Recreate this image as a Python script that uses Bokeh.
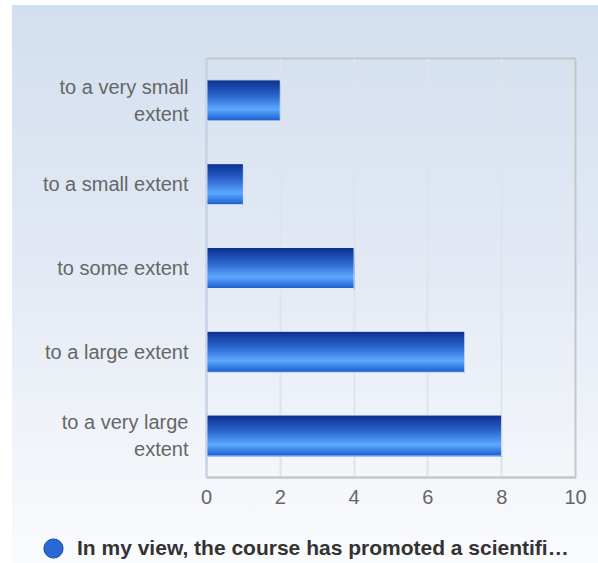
from bokeh.plotting import figure
from bokeh.layouts import column
from bokeh.models import FixedTicker, Legend, LegendItem, ColumnDataSource
from bokeh.embed import file_html
from bokeh.resources import INLINE

# ---- data ----
categories = ["to a very small\nextent", "to a small extent", "to some extent",
              "to a large extent", "to a very large\nextent"]
values = [2, 1, 4, 7, 8]
x_ticks = [0, 2, 4, 6, 8, 10]
series_name = "In my view, the course has promoted a scientifi\u2026"

FONT = "Liberation Sans"
n = len(categories)
pos = [n - 1 - i for i in range(n)]  # top category drawn at top

p = figure(width=586, height=525, x_range=(0, 10), y_range=(-0.5, n - 0.5),
           output_backend="svg", toolbar_location=None,
           min_border_left=194, min_border_right=23, min_border_top=53, min_border_bottom=53)
p.frame_align = False
p.border_fill_alpha = 0
p.background_fill_alpha = 0
p.outline_line_color = "#c6c6c6"
p.outline_line_width = 2

# gradient bars made of horizontal slices
def lerp(c1, c2, t):
    return "#%02x%02x%02x" % tuple(int(round(a + (b - a) * t)) for a, b in zip(c1, c2))

stops = [(0.0, (10, 48, 140)), (0.35, (40, 95, 200)), (0.72, (92, 168, 255)), (1.0, (24, 92, 204))]
def grad(t):
    for (t0, c0), (t1, c1) in zip(stops[:-1], stops[1:]):
        if t <= t1:
            return lerp(c0, c1, (t - t0) / (t1 - t0))
    return lerp(stops[-2][1], stops[-1][1], 1)

BAR_H = 0.49
NS = 30
ys, hs, rs, cs = [], [], [], []
for i, v in enumerate(values):
    top = pos[i] + BAR_H / 2
    bottom = pos[i] - BAR_H / 2
    for k in range(NS):
        t = k / NS
        y_top = top - t * BAR_H
        ys.append((y_top + bottom) / 2)
        hs.append(y_top - bottom)
        rs.append(v)
        cs.append(grad(t + 0.5 / NS))
src = ColumnDataSource(dict(y=ys, h=hs, right=rs, color=cs))
p.hbar(y="y", left=0, right="right", height="h", fill_color="color",
       line_color=None, source=src)
p.hbar(y=pos, left=0, right=values, height=BAR_H, fill_color=None,
       line_color="#e6eeff", line_width=1)

# axes
p.xaxis.ticker = FixedTicker(ticks=x_ticks)
p.yaxis.ticker = FixedTicker(ticks=pos)
p.yaxis.major_label_overrides = {pos[i]: categories[i] for i in range(n)}
for ax in (p.xaxis, p.yaxis):
    ax.major_tick_line_color = None
    ax.minor_tick_line_color = None
    ax.major_tick_out = 0
    ax.major_tick_in = 0
    ax.major_label_text_font = FONT
    ax.major_label_text_font_size = "20px"
    ax.major_label_text_color = "#666666"
p.yaxis.axis_line_color = "#c9d4ea"
p.yaxis.axis_line_width = 2
p.xaxis.axis_line_color = "#c6c6c6"
p.xaxis.axis_line_width = 2
p.yaxis.major_label_standoff = 18
p.xaxis.major_label_standoff = 12

p.xgrid.ticker = FixedTicker(ticks=x_ticks)
p.xgrid.grid_line_color = "#dfe3ea"
p.xgrid.grid_line_width = 2
p.ygrid.grid_line_color = None

# legend strip below
p2 = figure(width=586, height=33, x_range=(0, 1), y_range=(0, 1),
            output_backend="svg", toolbar_location=None,
            min_border_left=0, min_border_right=0, min_border_top=0, min_border_bottom=0)
p2.frame_align = False
p2.axis.visible = False
p2.grid.visible = False
p2.outline_line_color = None
p2.border_fill_alpha = 0
p2.background_fill_alpha = 0
leg_r = p2.scatter(x=[-5], y=[-5], size=19, marker="circle", fill_color="#2a68d4", line_color="#1a4aa8")
legend = Legend(items=[LegendItem(label=series_name, renderers=[leg_r])],
                location=(17, -9), orientation="horizontal",
                glyph_width=48, glyph_height=48, label_standoff=-11,
                label_text_font=FONT, label_text_font_size="21px", label_text_font_style="bold",
                label_text_color="#333333", background_fill_alpha=0, border_line_alpha=0,
                padding=0, margin=0)
p2.add_layout(legend, "center")

layout = column(p, p2, spacing=0)
layout.margin = (5, 0, 0, 12)
layout.styles = {"background": "linear-gradient(to bottom, #d3dfef 0%, #e2e9f4 45%, #fafbfd 100%)"}

open("out.html", "w").write(file_html(layout, INLINE))
